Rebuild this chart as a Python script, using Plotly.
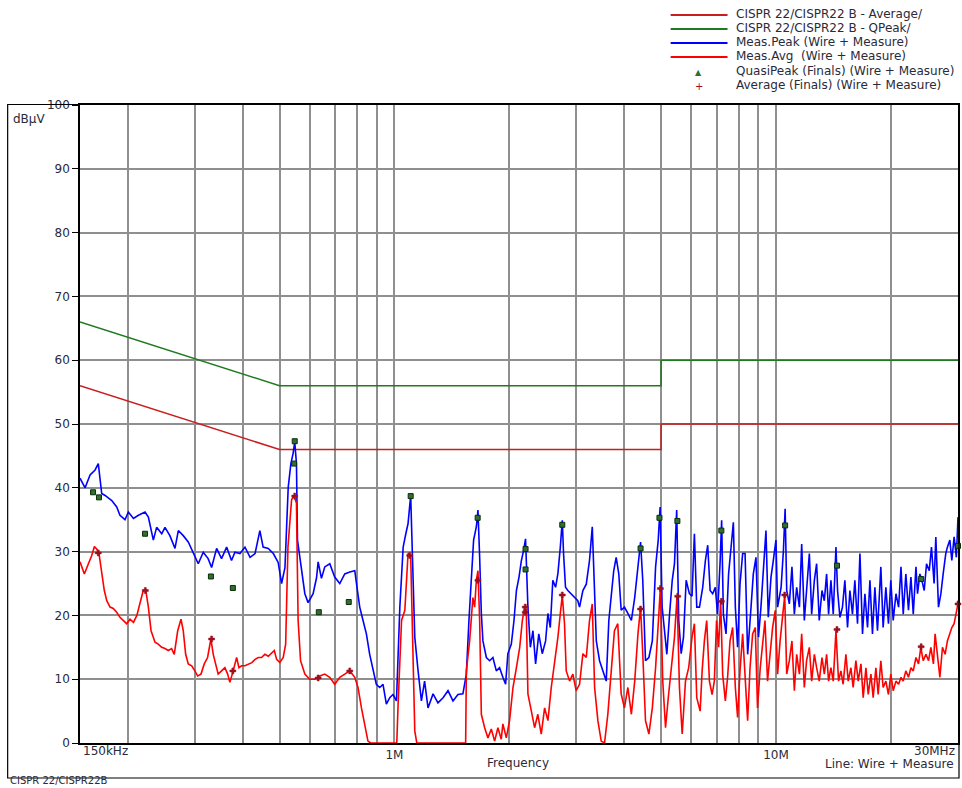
import math
import plotly.graph_objects as go

# ---------------- data (MHz, dBuV) ----------------
limit_freq = [0.15, 0.5, 5.0, 5.0, 30.0]
limit_qpeak = [66.0, 56.0, 56.0, 60.0, 60.0]
limit_avg = [56.0, 46.0, 46.0, 50.0, 50.0]

peak_freq = [
    0.150, 0.1547, 0.1594, 0.1643, 0.1675, 0.1710, 0.1745, 0.1817, 0.1872, 0.1909,
    0.1968, 0.2008, 0.2071, 0.2134, 0.2221, 0.2266, 0.2335, 0.2382, 0.2456, 0.2505,
    0.2580, 0.2661, 0.2715, 0.2797, 0.2883, 0.2970, 0.3062, 0.3156, 0.3250, 0.3319,
    0.3421, 0.3524, 0.3634, 0.3743, 0.3820, 0.3937, 0.4059, 0.4186, 0.4314, 0.4441,
    0.4529, 0.4672, 0.4816, 0.4960, 0.5063, 0.5167, 0.5270, 0.5355, 0.5428, 0.5481,
    0.5538, 0.5573, 0.5712, 0.5826, 0.5941, 0.6124, 0.6252, 0.6312, 0.6440, 0.6569,
    0.6772, 0.6976, 0.7193, 0.7412, 0.7640, 0.7874, 0.7981, 0.8114, 0.8277, 0.8446,
    0.8616, 0.8789, 0.8968, 0.9152, 0.9337, 0.9529, 0.9724, 0.9918, 1.0127, 1.0335,
    1.0544, 1.0715, 1.0861, 1.1034, 1.1152, 1.1310, 1.1538, 1.1772, 1.2000, 1.2250,
    1.2629, 1.3008, 1.3415, 1.3821, 1.4243, 1.4678, 1.5121, 1.5439, 1.5682, 1.5907,
    1.6130, 1.6400, 1.6560, 1.6730, 1.6900, 1.7063, 1.7421, 1.7768, 1.8122, 1.8500,
    1.8867, 1.9247, 1.9565, 1.9835, 2.0253, 2.0582, 2.0886, 2.1215, 2.1519, 2.1810,
    2.2069, 2.2386, 2.2717, 2.3076, 2.3448, 2.3903, 2.4409, 2.4909, 2.5258, 2.5621,
    2.6016, 2.6455, 2.6829, 2.7220, 2.7545, 2.7756, 2.8087, 2.8487, 2.9078, 2.9652,
    3.0246, 3.0568, 3.1193, 3.1837, 3.2462, 3.3008, 3.3272, 3.3821, 3.4492, 3.5174,
    3.5913, 3.6478, 3.7000, 3.7570, 3.8131, 3.8738, 3.9299, 4.0077, 4.0923, 4.1795,
    4.2641, 4.3487, 4.4179, 4.4769, 4.5514, 4.6457, 4.7429, 4.8371, 4.9143, 4.9714,
    5.0316, 5.1044, 5.1772, 5.2627, 5.3481, 5.4209, 5.4937, 5.5621, 5.6448, 5.7241,
    5.8172, 5.9310, 6.0265, 6.1136, 6.2008, 6.3030, 6.4280, 6.5323, 6.6250, 6.7218,
    6.8266, 6.9355, 7.0307, 7.1360, 7.2061, 7.2807, 7.3991, 7.5140, 7.6262, 7.7336,
    7.8271, 7.9346, 8.0500, 8.1800, 8.3000, 8.4300, 8.6042, 8.7240, 8.8646, 9.0000,
    9.1348, 9.2809, 9.4157, 9.5471, 9.7059, 9.8412, 10.000, 10.101, 10.316, 10.462,
    10.570, 10.671, 10.842, 11.014, 11.174, 11.333, 11.521, 11.681, 11.868, 12.030,
    12.233, 12.406, 12.609, 12.782, 12.985, 13.203, 13.390, 13.577, 13.740, 13.935,
    14.130, 14.365, 14.504, 14.713, 14.939, 15.159, 15.402, 15.626, 15.869, 16.100,
    16.360, 16.600, 16.860, 17.105, 17.379, 17.632, 17.905, 18.167, 18.456, 18.833,
    19.094, 19.412, 19.718, 20.000, 20.291, 20.633, 20.962, 21.266, 21.557, 21.899,
    22.250, 22.583, 22.903, 23.278, 23.500, 23.833, 24.120, 24.466, 24.812, 25.218,
    25.564, 25.970, 26.244, 26.667, 27.057, 27.431, 27.870, 28.139, 28.557, 28.904,
    29.304, 29.704, 30.000,
]
peak_level = [
    41.5, 40.0, 42.0, 42.8, 43.8, 39.1, 38.8, 38.0, 37.0, 35.7,
    35.0, 36.2, 35.2, 35.7, 36.2, 35.4, 31.8, 33.8, 32.8, 33.8,
    32.5, 30.5, 33.3, 32.5, 31.5, 29.7, 28.1, 29.9, 28.9, 27.5,
    30.5, 28.9, 30.7, 28.6, 29.9, 29.7, 30.7, 29.1, 29.7, 33.3,
    30.7, 30.5, 29.7, 28.3, 25.0, 27.5, 40.1, 43.8, 45.4, 47.2,
    43.8, 31.8, 27.0, 23.4, 22.0, 23.4, 25.9, 28.4, 25.8, 27.6,
    28.1, 26.0, 25.0, 26.5, 26.8, 27.0, 24.4, 21.3, 19.2, 17.1,
    13.9, 11.8, 9.2, 8.7, 9.2, 6.1, 7.1, 7.6, 6.6, 21.3,
    30.7, 32.8, 34.4, 38.8, 27.6, 16.6, 11.3, 6.6, 9.7, 5.5,
    7.7, 6.3, 7.1, 8.2, 6.6, 7.6, 7.7, 10.8, 19.2, 25.5,
    31.8, 33.9, 36.5, 29.1, 20.3, 16.0, 13.4, 12.9, 13.4, 11.3,
    11.8, 10.3, 9.2, 14.0, 15.5, 19.2, 23.9, 26.0, 28.6, 30.2,
    32.0, 21.3, 15.0, 17.6, 12.4, 17.1, 14.0, 16.0, 20.3, 18.1,
    25.5, 24.4, 26.6, 30.7, 34.9, 29.7, 24.4, 23.9, 23.4, 22.8,
    22.3, 21.3, 23.9, 24.9, 28.6, 33.9, 27.6, 16.0, 12.9, 11.3,
    9.7, 19.2, 22.8, 27.0, 29.1, 26.5, 20.8, 21.3, 20.3, 19.2,
    22.8, 28.1, 31.5, 25.5, 12.9, 13.4, 16.0, 27.6, 31.8, 37.0,
    21.3, 17.6, 13.9, 20.2, 25.5, 28.1, 36.5, 19.2, 14.0, 16.6,
    25.5, 23.4, 23.0, 32.8, 21.3, 21.3, 24.4, 28.6, 31.0, 23.9,
    23.4, 24.4, 20.2, 28.1, 34.9, 20.2, 17.1, 26.5, 30.7, 34.6,
    21.3, 15.0, 24.9, 29.7, 29.7, 13.9, 21.3, 26.5, 29.1, 16.6,
    21.3, 27.6, 33.3, 19.7, 26.0, 28.6, 31.8, 21.3, 24.4, 30.2,
    36.7, 23.9, 21.8, 27.6, 20.2, 24.4, 21.3, 31.2, 19.2, 23.9,
    29.7, 20.2, 25.5, 28.1, 19.2, 23.9, 22.3, 26.5, 20.2, 25.5,
    20.2, 30.7, 23.9, 19.7, 21.3, 25.5, 18.1, 23.9, 20.2, 25.5,
    18.7, 29.7, 17.1, 23.4, 18.1, 25.5, 17.1, 24.4, 17.6, 27.6,
    18.1, 24.4, 18.7, 25.5, 19.2, 23.4, 21.3, 27.6, 20.2, 26.5,
    20.8, 26.0, 20.2, 27.6, 23.4, 26.5, 25.5, 23.9, 28.1, 27.0,
    30.7, 25.0, 32.3, 21.3, 23.4, 26.5, 29.7, 30.7, 31.8, 28.6,
    32.3, 29.1, 35.4,
]

avg_freq = [
    0.150, 0.1540, 0.1578, 0.1610, 0.1636, 0.1659, 0.1682, 0.1710, 0.1737, 0.1763,
    0.1798, 0.1834, 0.1872, 0.1909, 0.1948, 0.1988, 0.2029, 0.2071, 0.2114, 0.2156,
    0.2197, 0.2230, 0.2266, 0.2303, 0.2359, 0.2405, 0.2456, 0.2505, 0.2555, 0.2607,
    0.2649, 0.2705, 0.2759, 0.2797, 0.2838, 0.2883, 0.2943, 0.3000, 0.3051, 0.3113,
    0.3175, 0.3239, 0.3305, 0.3352, 0.3400, 0.3453, 0.3524, 0.3596, 0.3656, 0.3706,
    0.3780, 0.3860, 0.3914, 0.3977, 0.4059, 0.4143, 0.4230, 0.4314, 0.4398, 0.4485,
    0.4578, 0.4672, 0.4770, 0.4845, 0.4914, 0.5009, 0.5113, 0.5189, 0.5261, 0.5377,
    0.5450, 0.5538, 0.5594, 0.5677, 0.5826, 0.6000, 0.6188, 0.6376, 0.6569, 0.6772,
    0.6976, 0.7193, 0.7412, 0.7640, 0.7874, 0.8030, 0.8198, 0.8361, 0.8526, 0.8668,
    1.0146, 1.0228, 1.0443, 1.0652, 1.0861, 1.1034, 1.1152, 1.1310, 1.1448, 1.5374,
    1.5439, 1.5748, 1.6060, 1.6230, 1.6400, 1.6560, 1.6730, 1.6900, 1.7242, 1.7589,
    1.7947, 1.8311, 1.8678, 1.9059, 1.9247, 1.9647, 2.0038, 2.0456, 2.0886, 2.1304,
    2.1646, 2.1937, 2.2166, 2.2386, 2.2855, 2.3310, 2.3766, 2.4258, 2.4758, 2.5258,
    2.5773, 2.6293, 2.6829, 2.7220, 2.7545, 2.7919, 2.8209, 2.8783, 2.9357, 2.9948,
    3.0568, 3.1193, 3.1837, 3.2462, 3.3008, 3.3476, 3.4146, 3.4837, 3.5543, 3.6261,
    3.7000, 3.7734, 3.8505, 3.9299, 4.0077, 4.0923, 4.1795, 4.2641, 4.3487, 4.4179,
    4.4769, 4.5514, 4.6457, 4.7429, 4.8371, 4.9143, 4.9800, 5.0506, 5.1361, 5.2215,
    5.3165, 5.4209, 5.5069, 5.5862, 5.6793, 5.7931, 5.9069, 6.0265, 6.1136, 6.2008,
    6.3295, 6.4053, 6.4924, 6.5847, 6.6935, 6.8024, 6.8952, 6.9879, 7.0746, 7.1623,
    7.2500, 7.3684, 7.4693, 7.5794, 7.7009, 7.8271, 7.9346, 8.0500, 8.1800, 8.3150,
    8.4300, 8.5521, 8.6875, 8.8281, 8.9479, 9.0955, 9.2247, 9.3596, 9.5059, 9.6471,
    9.8000, 9.9588, 10.101, 10.253, 10.418, 10.544, 10.671, 10.842, 11.014, 11.174,
    11.333, 11.521, 11.681, 11.868, 12.030, 12.233, 12.406, 12.609, 12.782, 12.985,
    13.203, 13.390, 13.577, 13.740, 13.935, 14.130, 14.365, 14.591, 14.800, 15.000,
    15.252, 15.467, 15.720, 15.935, 16.200, 16.430, 16.700, 16.930, 17.211, 17.453,
    17.737, 17.979, 18.278, 18.533, 18.833, 19.094, 19.412, 19.718, 20.000, 20.291,
    20.633, 20.962, 21.266, 21.557, 21.899, 22.250, 22.583, 22.903, 23.278, 23.639,
    23.972, 24.316, 24.722, 25.113, 25.474, 25.865, 26.130, 26.504, 26.894, 27.317,
    27.756, 28.139, 28.557, 28.904, 29.304, 29.704, 30.000,
]
avg_level = [
    28.4, 26.5, 28.1, 29.4, 30.8, 30.4, 29.7, 26.5, 23.9, 22.3,
    21.3, 21.1, 20.5, 19.7, 19.2, 18.7, 19.4, 18.9, 20.0, 21.8,
    23.9, 24.0, 21.3, 17.6, 15.8, 15.5, 15.0, 14.8, 14.5, 14.8,
    13.9, 17.6, 19.4, 17.6, 13.9, 12.4, 12.1, 11.3, 10.5, 10.8,
    12.4, 13.4, 16.3, 13.9, 12.4, 10.8, 11.3, 11.8, 10.8, 9.5,
    11.3, 13.4, 11.8, 12.1, 12.1, 12.4, 12.6, 13.1, 13.4, 13.4,
    13.9, 13.6, 14.2, 14.5, 13.1, 12.6, 13.4, 15.5, 30.7, 38.1,
    38.8, 37.6, 19.2, 12.9, 10.8, 10.0, 10.0, 10.5, 10.8, 10.3,
    9.2, 10.3, 10.8, 11.3, 10.3, 8.7, 5.5, 3.0, 0.3, 0.0,
    0.0, 6.1, 19.2, 20.8, 29.7, 29.4, 19.2, 1.9, 0.0, 0.0,
    11.3, 16.0, 22.8, 21.3, 25.5, 27.0, 19.2, 4.5, 2.4, 0.8,
    2.2, 0.3, 2.4, 0.6, 3.0, 0.8, 3.5, 8.7, 11.8, 15.0,
    19.2, 21.3, 20.8, 7.7, 5.0, 2.4, 4.5, 1.4, 5.5, 3.5,
    8.7, 12.4, 16.6, 20.3, 23.1, 18.7, 11.3, 9.7, 10.8, 8.2,
    9.2, 14.0, 13.4, 19.2, 21.8, 8.7, 3.5, 0.3, 0.0, 4.5,
    11.8, 17.6, 18.7, 7.7, 5.5, 8.7, 4.5, 9.7, 17.1, 21.3,
    14.0, 3.5, 1.4, 5.5, 11.8, 18.1, 24.4, 9.7, 2.4, 7.1,
    11.8, 16.6, 23.1, 8.7, 1.4, 9.7, 11.8, 16.6, 18.7, 7.1,
    5.0, 11.3, 16.0, 19.2, 9.7, 7.6, 9.7, 19.2, 15.0, 22.3,
    10.8, 6.6, 10.3, 16.0, 18.1, 8.7, 4.0, 11.3, 17.1, 8.7,
    3.5, 11.8, 17.1, 18.1, 5.5, 11.8, 16.0, 19.2, 9.7, 13.9,
    18.1, 20.8, 10.8, 16.0, 20.2, 23.1, 10.8, 12.9, 16.0, 8.2,
    13.9, 10.8, 17.1, 8.7, 12.9, 15.0, 9.7, 13.9, 11.8, 9.7,
    13.4, 10.8, 13.9, 9.7, 11.8, 9.7, 17.6, 9.7, 11.3, 9.2,
    13.9, 9.7, 11.8, 8.7, 12.9, 9.7, 12.4, 7.1, 11.8, 7.6,
    10.8, 7.1, 11.8, 7.6, 12.9, 8.7, 9.7, 7.6, 10.8, 8.2,
    9.7, 9.2, 10.3, 9.7, 11.3, 10.3, 11.8, 11.3, 13.4, 12.4,
    15.0, 12.9, 13.9, 12.9, 15.0, 12.4, 17.1, 13.9, 10.3, 15.0,
    13.9, 16.0, 17.1, 18.1, 18.7, 20.2, 21.8,
]

qp_final_freq = [0.1623, 0.1682, 0.2221, 0.3305, 0.3773, 0.5481, 0.5460, 0.6338, 0.7593,
                 1.1034, 1.6530, 2.2069, 2.2069, 2.7545, 4.4179, 4.9514, 5.5172, 7.1930,
                 10.570, 14.452, 24.015, 30.000]
qp_final_level = [39.3, 38.5, 32.8, 26.1, 24.3, 47.3, 43.8, 20.5, 22.1,
                  38.7, 35.3, 30.4, 27.2, 34.2, 30.5, 35.3, 34.8, 33.3,
                  34.1, 27.8, 25.7, 30.9]
av_final_freq = [0.1675, 0.2225, 0.3319, 0.3773, 0.5481, 0.6312, 0.7640, 1.0968, 1.6560,
                 2.2028, 2.2028, 2.7545, 4.4179, 4.9800, 5.5276, 7.1930, 10.544, 14.452,
                 24.015, 30.000]
av_final_level = [29.8, 23.9, 16.3, 11.3, 38.7, 10.2, 11.3, 29.4, 25.5,
                  21.3, 20.5, 23.2, 21.0, 24.2, 23.0, 22.2, 23.2, 17.8,
                  15.1, 21.8]

grid_freqs = [0.2, 0.3, 0.4, 0.5, 0.6, 0.7, 0.8, 0.9, 1, 2, 3, 4, 5, 6, 7, 8, 9, 10, 20]
grid_labels = ["", "", "", "", "", "", "", "", "1M", "", "", "", "", "", "", "", "", "10M", ""]
y_ticks = [0, 10, 20, 30, 40, 50, 60, 70, 80, 90, 100]

legend_names = ["CISPR 22/CISPR22 B - Average/", "CISPR 22/CISPR22 B - QPeak/",
                "Meas.Peak (Wire + Measure)", "Meas.Avg  (Wire + Measure)",
                "QuasiPeak (Finals) (Wire + Measure)", "Average (Finals) (Wire + Measure)"]

# ---------------- styling ----------------
C_AVG_LIM = "#c81e1e"
C_QP_LIM = "#1e7a1e"
C_PEAK = "#0000ff"
C_AVG = "#ff0000"
C_QP_MK = "#2f6f2f"
C_AV_MK = "#9b1020"
TXT = "#2a2a3a"
FONT = "DejaVu Sans"
FS = 12

W, H = 962, 788
ML, MR, MT, MB = 80, 2, 105, 45
PW, PH = W - ML - MR, H - MT - MB


def px(x):
    return (x - ML) / PW


def py(y):
    return (H - MB - y) / PH


fig = go.Figure()
fig.add_trace(go.Scatter(x=limit_freq, y=limit_avg, mode="lines",
                         line=dict(color=C_AVG_LIM, width=1.5), name=legend_names[0]))
fig.add_trace(go.Scatter(x=limit_freq, y=limit_qpeak, mode="lines",
                         line=dict(color=C_QP_LIM, width=1.5), name=legend_names[1]))
fig.add_trace(go.Scatter(x=peak_freq, y=peak_level, mode="lines",
                         line=dict(color=C_PEAK, width=1.6), name=legend_names[2]))
fig.add_trace(go.Scatter(x=avg_freq, y=avg_level, mode="lines",
                         line=dict(color=C_AVG, width=1.6), name=legend_names[3]))
fig.add_trace(go.Scatter(x=qp_final_freq, y=qp_final_level, mode="markers",
                         marker=dict(symbol="square", size=5, color=C_QP_MK,
                                     line=dict(color="#0b2e0b", width=1)),
                         name=legend_names[4], cliponaxis=False))
fig.add_trace(go.Scatter(x=av_final_freq, y=av_final_level, mode="markers",
                         marker=dict(symbol="cross", size=5, color=C_AV_MK,
                                     line=dict(color=C_AV_MK, width=0.5)),
                         name=legend_names[5], cliponaxis=False))

axis_common = dict(showgrid=True, gridcolor="#8f8f8f", gridwidth=1.6,
                   showline=True, linecolor="black", linewidth=1.5, mirror=True,
                   zeroline=False, layer="below traces")

fig.update_xaxes(type="log", range=[math.log10(0.15), math.log10(30)],
                 tickmode="array", tickvals=grid_freqs, ticktext=grid_labels,
                 ticks="", tickfont=dict(family=FONT, size=FS, color=TXT),
                 **axis_common)
fig.update_yaxes(range=[0, 100], tickmode="array", tickvals=y_ticks,
                 ticks="outside", ticklen=6, tickcolor="black", tickwidth=1,
                 tickfont=dict(family=FONT, size=FS, color=TXT),
                 **axis_common)

shapes = [dict(type="rect", xref="paper", yref="paper",
               x0=px(7.5), x1=px(961), y0=py(778), y1=py(104.5),
               line=dict(color="black", width=1.2), fillcolor="rgba(0,0,0,0)")]

annotations = [
    dict(text="dBµV", x=px(11), y=py(119), xanchor="left", yanchor="middle"),
    dict(text="Frequency", x=px(519), y=py(763), xanchor="center", yanchor="middle"),
    dict(text="Line: Wire + Measure", x=px(958), y=py(764), xanchor="right", yanchor="middle"),
    dict(text="150kHz", x=px(81), y=py(751), xanchor="left", yanchor="middle"),
    dict(text="30MHz", x=px(959), y=py(751), xanchor="right", yanchor="middle"),
    dict(text="CISPR 22/CISPR22B", x=px(8), y=py(788), xanchor="left", yanchor="bottom",
         font=dict(family=FONT, size=10, color=TXT)),
]

# custom legend (top right)
legend_rows = [14, 28, 42, 56, 71, 85]
legend_line_colors = [C_AVG_LIM, C_QP_LIM, C_PEAK, C_AVG]
for i, name in enumerate(legend_names):
    yy = legend_rows[i]
    annotations.append(dict(text=name, x=px(735), y=py(yy), xanchor="left", yanchor="middle"))
    if i < 4:
        shapes.append(dict(type="line", xref="paper", yref="paper",
                           x0=px(672), x1=px(729), y0=py(yy + 1), y1=py(yy + 1),
                           line=dict(color=legend_line_colors[i], width=2)))
annotations.append(dict(text="▲", x=px(700), y=py(legend_rows[4] + 1), xanchor="center",
                        yanchor="middle", font=dict(size=8, color=C_QP_MK, family=FONT)))
annotations.append(dict(text="+", x=px(700), y=py(legend_rows[5] + 1), xanchor="center",
                        yanchor="middle", font=dict(size=10, color=C_AV_MK, family=FONT)))

for a in annotations:
    a.setdefault("xref", "paper")
    a.setdefault("yref", "paper")
    a.setdefault("showarrow", False)
    a.setdefault("font", dict(family=FONT, size=FS, color=TXT))

fig.update_layout(width=W, height=H, margin=dict(l=ML, r=MR, t=MT, b=MB, pad=0),
                  paper_bgcolor="white", plot_bgcolor="white", showlegend=False,
                  font=dict(family=FONT, size=FS, color=TXT),
                  shapes=shapes, annotations=annotations)

fig.write_html("out.html",
               config={"displayModeBar": False},
               post_script="document.body.style.margin='0';"
                           "document.body.style.overflow='hidden';")
